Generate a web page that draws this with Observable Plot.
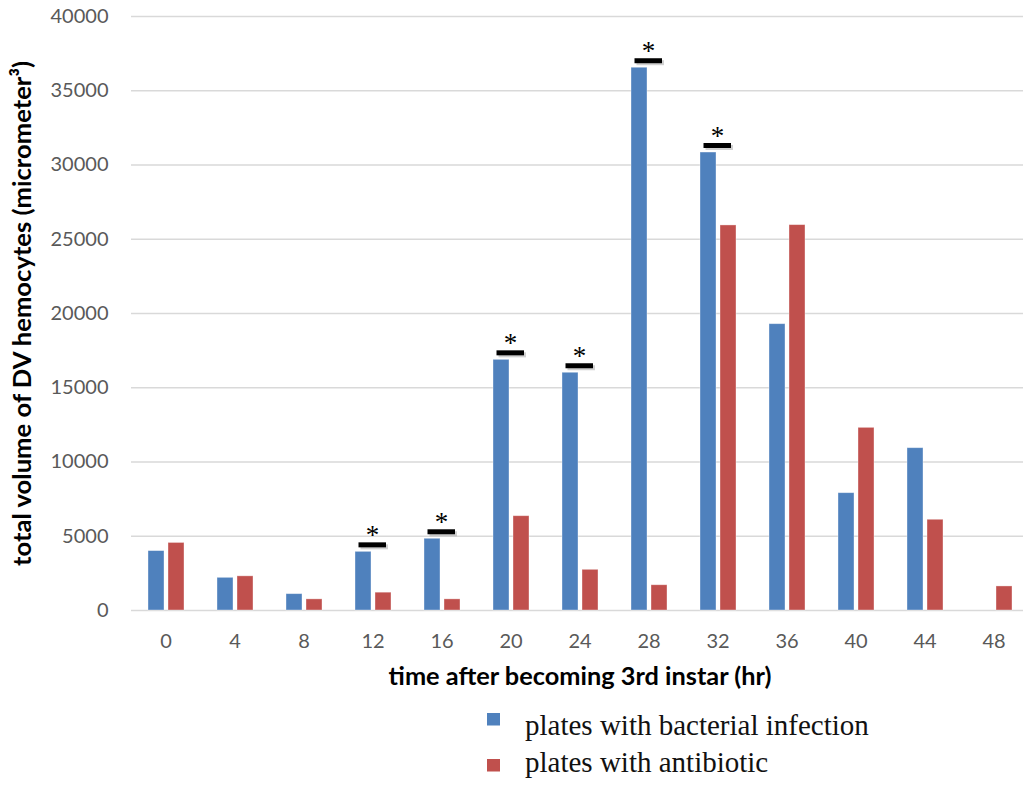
<!DOCTYPE html>
<html><head><meta charset="utf-8">
<script src="https://cdn.jsdelivr.net/npm/d3@7"></script>
<script src="https://cdn.jsdelivr.net/npm/@observablehq/plot@0.6"></script>
<style>
html,body{margin:0;padding:0;background:#fff;overflow:hidden;}
#chart{position:relative;width:1023px;height:785px;overflow:hidden;}
#chart svg{display:block;overflow:hidden;}
g[aria-label="y-axis label"], g[aria-label="fx-axis label"]{font-weight:bold;fill:#000;}
g[aria-label="fx-axis tick label"], g[aria-label="y-axis tick label"]{fill:#595959;}
</style></head><body><div id="chart"></div><script>
const times = [0, 4, 8, 12, 16, 20, 24, 28, 32, 36, 40, 44, 48];
const infection = [4000, 2200, 1100, 3950, 4830, 16880, 16010, 36550, 30840, 19280, 7900, 10930, null];
const antibiotic = [4550, 2300, 750, 1200, 750, 6350, 2740, 1700, 25930, 25950, 12300, 6110, 1620];
const significant = [12, 16, 20, 24, 28, 32];
const seriesNames = ["plates with bacterial infection", "plates with antibiotic"];
const colors = ["#4F81BD", "#C0504D"];
const yTicks = [0, 5000, 10000, 15000, 20000, 25000, 30000, 35000, 40000];
const xTitle = "time after becoming 3rd instar (hr)";
const yTitle = "total volume of DV hemocytes (micrometer³)";

const rows = [];
times.forEach((t, i) => {
  if (infection[i] != null) rows.push({time: t, series: seriesNames[0], value: infection[i]});
  if (antibiotic[i] != null) rows.push({time: t, series: seriesNames[1], value: antibiotic[i]});
});
const sig = significant.map(t => ({time: t, series: seriesNames[0], value: infection[times.indexOf(t)]}));

const plot = Plot.plot({
  width: 1023,
  height: 697,
  marginLeft: 131,
  marginRight: -5,
  marginTop: 16,
  marginBottom: 87,
  style: {fontFamily: "Lato, sans-serif", fontSize: "20px", background: "#fff"},
  fx: {domain: times, padding: 0, axis: "bottom", tickSize: 0, tickPadding: 23, label: xTitle, labelAnchor: "center", labelOffset: 74, labelArrow: "none"},
  x: {domain: seriesNames, paddingInner: 0.2, paddingOuter: 0.824, axis: null},
  y: {domain: [0, 40000], axis: null},
  color: {domain: seriesNames, range: colors},
  marks: [
    Plot.gridY(yTicks, {stroke: "#d9d9d9", strokeOpacity: 1, strokeWidth: 1.6}),
    Plot.barY(rows, {fx: "time", x: "series", y: "value", fill: "series", stroke: "#fff", strokeOpacity: 0.45, strokeWidth: 0.8}),
    Plot.tickY(sig, {fx: "time", x: "series", y: "value", dy: -5, dx: 2, insetLeft: 3.5, insetRight: -15, stroke: "#999", strokeOpacity: 0.45, strokeWidth: 5}),
    Plot.tickY(sig, {fx: "time", x: "series", y: "value", dy: -7, insetLeft: 3.5, insetRight: -15, stroke: "#000", strokeWidth: 5}),
    Plot.text(sig, {fx: "time", x: "series", y: "value", text: () => "*", dx: 9, dy: -16, fontSize: 27, fontFamily: "Liberation Serif, serif", fill: "#000"}),
    Plot.axisY(yTicks, {tickSize: 0, tickPadding: 23, tickFormat: d => String(d), label: yTitle, labelAnchor: "center", labelOffset: 119, labelArrow: "none"})
  ]
});
const chart = document.getElementById("chart");
chart.appendChild(plot);

// fit the bold axis titles to the reference's lengths
function fit(sel, target) {
  d3.select(plot).selectAll(sel).each(function() {
    const t = this;
    t.style.fontSize = "20px";
    const len = t.getComputedTextLength();
    if (len > 0) t.style.fontSize = (20 * target / len).toFixed(2) + "px";
  });
}
fit('g[aria-label="y-axis label"] text', 505);
fit('g[aria-label="fx-axis label"] text', 383);

// legend below the chart
const leg = d3.select(chart).append("svg").attr("width", 1023).attr("height", 88)
  .style("display", "block");
seriesNames.forEach((name, i) => {
  const g = leg.append("g");
  g.append("rect").attr("x", 487).attr("y", 16 + i * 46).attr("width", 13).attr("height", 12.5).attr("fill", colors[i]);
  g.append("text").attr("x", 525).attr("y", 38 + i * 37).text(name)
    .attr("font-family", "Liberation Serif, 'Times New Roman', serif").attr("font-size", 29).attr("fill", "#111");
});
</script></body></html>
